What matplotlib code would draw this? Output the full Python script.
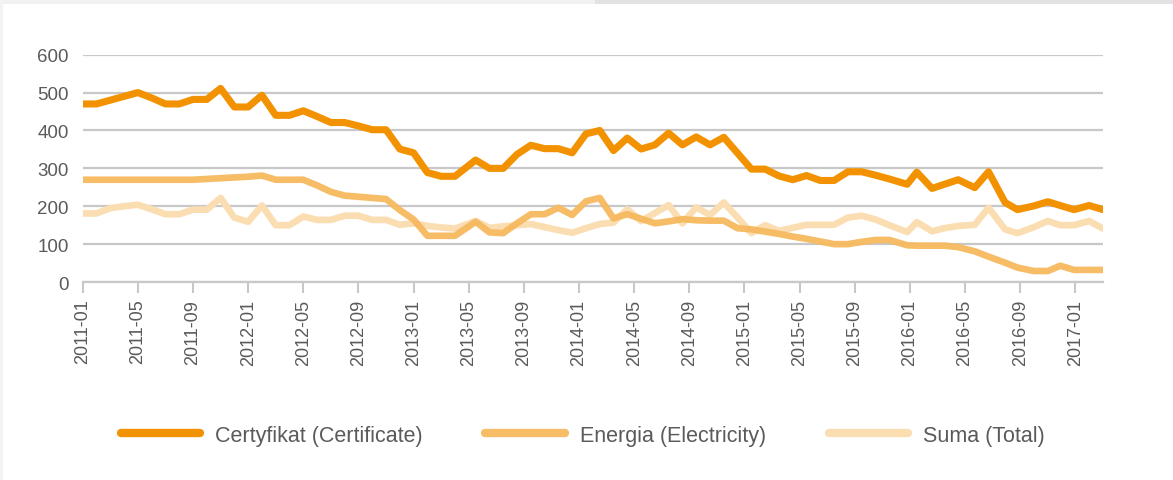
import matplotlib.pyplot as plt
from matplotlib.patches import Rectangle

plt.rcParams['font.family'] = ['Liberation Sans', 'DejaVu Sans']

# pozycja punktu w miesiącach od 2011-01
months = [0, 1, 2, 3, 4, 5, 6, 7, 8, 9,
          10, 11, 12, 13, 14, 15, 16, 17, 18, 19,
          20, 21, 22, 23, 24, 25, 26, 27,
          28.5, 29.5, 30.5, 31.5, 32.5, 33.5, 34.5, 35.5, 36.5, 37.5,
          38.5, 39.5, 40.5, 41.5, 42.5, 43.5, 44.5, 45.5, 46.5, 47.5,
          48.5, 49.5, 50.5, 51.5, 52.5, 53.5, 54.5, 55.5, 56.5, 57.5,
          58.5,
          59.8, 60.5, 61.6, 62.5, 63.5, 64.7, 65.7, 66.9, 67.8, 69.0,
          70.0, 70.9, 71.9, 73.0, 74.0]

certyfikat = [470, 470, 480, 490, 500, 486, 470, 470, 482, 482,
              511, 462, 462, 493, 440, 440, 452, 437, 421, 421,
              412, 402, 402, 351, 341, 289, 279, 279,
              322, 300, 300, 337, 361, 352, 352, 341, 391, 400,
              347, 380, 351, 362, 393, 362, 383, 362, 382, 340,
              298, 298, 280, 270, 281, 268, 268, 291, 291, 282,
              272,
              258, 290, 247, 258, 270, 249, 291, 210, 191, 201,
              212, 202, 191, 202, 191]

energia = [270, 270, 270, 270, 270, 270, 270, 270, 270, 272,
           274, 276, 278, 281, 270, 270, 270, 255, 238, 228,
           225, 222, 219, 190, 165, 122, 122, 122,
           159, 131, 129, 155, 179, 179, 196, 177, 213, 222,
           168, 179, 167, 155, 160, 166, 163, 162, 162, 142,
           139, 133, 127, 120, 114, 107, 100, 100, 106, 111,
           111,
           97, 96, 96, 96, 92, 81, 67, 51, 38, 29,
           29, 43, 32, 32, 32]

suma = [181, 181, 195, 200, 204, 192, 179, 179, 191, 191,
        222, 170, 159, 202, 150, 150, 173, 164, 164, 175,
        175, 164, 164, 151, 155, 148, 144, 141,
        161, 143, 147, 150, 153, 145, 137, 130, 142, 153,
        157, 192, 161, 182, 203, 155, 197, 177, 210, 170,
        129, 150, 135, 143, 151, 151, 151, 170, 175, 165,
        150,
        132, 158, 134, 142, 148, 151, 196, 139, 129, 145,
        161, 150, 150, 161, 141]

tick_pos = [0, 4, 8, 12, 16, 20, 24, 28, 32, 36, 40, 44, 48, 52, 56, 60, 64, 68, 72]
tick_labels = ['2011-01', '2011-05', '2011-09', '2012-01', '2012-05', '2012-09',
               '2013-01', '2013-05', '2013-09', '2014-01', '2014-05', '2014-09',
               '2015-01', '2015-05', '2015-09', '2016-01', '2016-05', '2016-09',
               '2017-01']

fig = plt.figure(figsize=(11.73, 4.81), dpi=100)

# szary pasek u góry (zrzut ekranu)
fig.add_artist(Rectangle((0, 1 - 5 / 481), 595 / 1173, 5 / 481, transform=fig.transFigure,
                         color='#f1f1f1', lw=0))
fig.add_artist(Rectangle((595 / 1173, 1 - 5 / 481), 1 - 595 / 1173, 5 / 481,
                         transform=fig.transFigure, color='#e2e2e2', lw=0))
fig.add_artist(Rectangle((0, 0), 3 / 1173, 1, transform=fig.transFigure,
                         color='#f3f3f3', lw=0))

ax = fig.add_axes([0.0705, 0.4116, 0.8698, 0.4726])

l3, = ax.plot(months, suma, color='#FBDDB2', lw=4.8, solid_capstyle='round',
              label='Suma (Total)')
l2, = ax.plot(months, energia, color='#F6B95E', lw=4.8, alpha=0.95, solid_capstyle='round',
              label='Energia (Electricity)')
l1, = ax.plot(months, certyfikat, color='#F39200', lw=5.1, solid_capstyle='round',
              label='Certyfikat (Certificate)')

ax.set_xlim(0, 74)
ax.set_ylim(0, 600)
ax.set_yticks(range(0, 601, 100))
ax.set_xticks(tick_pos)
ax.set_xticklabels(tick_labels, rotation=90)

ax.grid(axis='y', color='#c8c8c8', lw=1.6)
ax.set_axisbelow(True)
for s in ['top', 'right', 'left']:
    ax.spines[s].set_visible(False)
ax.spines['bottom'].set_color('#c8c8c8')
ax.spines['bottom'].set_linewidth(1.6)

ax.tick_params(axis='x', length=8, width=1.5, color='#c8c8c8', labelsize=13,
               labelcolor='#5a5a5a', pad=4)
ax.tick_params(axis='y', length=0, labelsize=13.5, labelcolor='#5a5a5a', pad=10)

leg = fig.legend([l1, l2, l3], [l1.get_label(), l2.get_label(), l3.get_label()],
                 loc='center', bbox_to_anchor=(0.497, 0.093), ncol=3, frameon=False,
                 fontsize=15.5, handlelength=3.7, handletextpad=0.7, columnspacing=2.9,
                 labelcolor='#5a5a5a')
for h in leg.legend_handles:
    h.set_linewidth(6)

plt.savefig('out.png', dpi=100)
